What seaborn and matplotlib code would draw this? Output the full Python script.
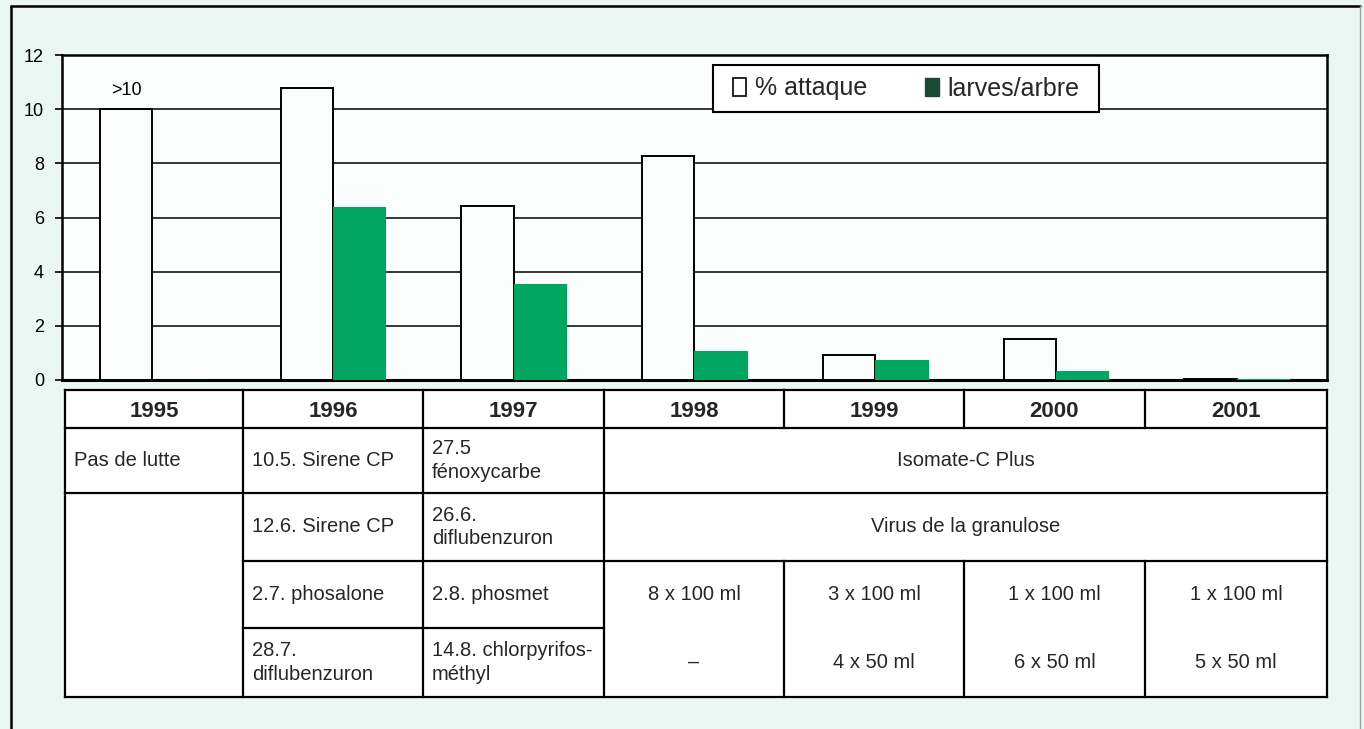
import numpy as np
import pandas as pd
import matplotlib
matplotlib.use('Agg')
import matplotlib.pyplot as plt
import seaborn as sns
from matplotlib.patches import Patch, Rectangle

# ---------------- data ----------------
years = ['1995', '1996', '1997', '1998', '1999', '2000', '2001']
series_names = ['% attaque', 'larves/arbre']
attaque = [10.0, 10.78, 6.44, 8.26, 0.93, 1.52, 0.05]
larves = [0.0, 6.37, 3.56, 1.07, 0.74, 0.33, 0.03]
y_ticks = [0, 2, 4, 6, 8, 10, 12]
over_label = '>10'

row1_left = ['Pas de lutte', '10.5. Sirene CP', '27.5\nfénoxycarbe']
row1_span = 'Isomate-C Plus'
row2_left = ['', '12.6. Sirene CP', '26.6.\ndiflubenzuron']
row2_span = 'Virus de la granulose'
row3_left = ['', '2.7. phosalone', '2.8. phosmet']
row3_doses = ['8 x 100 ml', '3 x 100 ml', '1 x 100 ml', '1 x 100 ml']
row4_left = ['', '28.7.\ndiflubenzuron', '14.8. chlorpyrifos-\nméthyl']
row4_doses = ['–', '4 x 50 ml', '6 x 50 ml', '5 x 50 ml']

# ---------------- style ----------------
W, H = 1364, 729
bg_mint = '#ebf7f2'
bar_white = '#fafdfc'
bar_green = '#00a660'
legend_green = '#1c4834'

sns.set_style('ticks')
plt.rcParams['font.family'] = ['Liberation Sans', 'DejaVu Sans']
plt.rcParams['axes.edgecolor'] = 'black'

fig = plt.figure(figsize=(W / 100, H / 100), dpi=100, facecolor=bg_mint)

# ---------------- bar chart ----------------
ax = fig.add_axes([62 / W, 1 - 380 / H, 1265 / W, 325 / H])
ax.set_facecolor('#fcfefd')

df = pd.DataFrame({
    'year': years * 2,
    'series': [series_names[0]] * len(years) + [series_names[1]] * len(years),
    'value': attaque + larves,
})
sns.barplot(data=df, x='year', y='value', hue='series',
            palette=[bar_white, bar_green], width=0.58, gap=0,
            saturation=1, legend=False, ax=ax, zorder=3)

for bar in ax.containers[0]:
    bar.set_edgecolor('black')
    bar.set_linewidth(1.4)
for bar in ax.containers[1]:
    bar.set_edgecolor(bar_green)
    bar.set_linewidth(0.8)

ax.set_ylim(0, 12)
ax.set_yticks(y_ticks)
ax.yaxis.grid(True, color='black', linewidth=1.1)
ax.set_axisbelow(True)
ax.set_xlabel('')
ax.set_ylabel('')
ax.tick_params(axis='x', bottom=False, labelbottom=False)
ax.tick_params(axis='y', length=5, width=1.2, pad=8, labelsize=13, colors='black')
for sp in ax.spines.values():
    sp.set_visible(True)
    sp.set_color('black')
    sp.set_linewidth(1.8)
ax.spines['bottom'].set_linewidth(2.2)

first = ax.containers[0][0]
ax.annotate(over_label, (first.get_x() + first.get_width() / 2, first.get_height()),
            xytext=(0, 7), textcoords='offset points', ha='center', va='bottom',
            fontsize=13, color='black')

# ---------------- overlay: frame, legend, table ----------------
tax = fig.add_axes([0, 0, 1, 1])
tax.set_xlim(0, W)
tax.set_ylim(H, 0)
tax.axis('off')
tax.patch.set_alpha(0)

# legend box + legend
tax.add_patch(Rectangle((713, 65), 386, 47, facecolor='white', edgecolor='black',
                        linewidth=1.5, zorder=2))
handles = [Patch(facecolor='white', edgecolor='black', linewidth=1.2, label=series_names[0]),
           Patch(facecolor=legend_green, edgecolor=legend_green, label=series_names[1])]
leg = tax.legend(handles=handles, ncol=2, loc='center',
                 bbox_to_anchor=(906 / W, 1 - 88.5 / H), bbox_transform=fig.transFigure,
                 fontsize=18, frameon=False, handlelength=0.55,
                 handleheight=0.7, handletextpad=0.35, columnspacing=2.3,
                 borderpad=0.3)
leg.set_zorder(5)

# outer frame
tax.plot([11, 11], [6, H + 5], color='black', lw=1.8)
tax.plot([11, 1360], [6, 6], color='black', lw=1.8)
tax.plot([1360, 1360], [6, H + 5], color='#9aa5a0', lw=1.0)

col_x = [65, 243, 423, 604, 784, 964, 1145, 1327]
row_y = [390, 428, 493, 561, 628, 697]
lw_t = 1.6
tax.add_patch(Rectangle((col_x[0], row_y[0]), col_x[-1] - col_x[0], row_y[-1] - row_y[0],
                        facecolor='white', edgecolor='none', zorder=0))

def hline(y, x0, x1):
    tax.plot([x0, x1], [y, y], color='black', lw=lw_t, solid_capstyle='projecting')

def vline(x, y0, y1):
    tax.plot([x, x], [y0, y1], color='black', lw=lw_t, solid_capstyle='projecting')

hline(row_y[0], col_x[0], col_x[-1])
hline(row_y[1], col_x[0], col_x[-1])
hline(row_y[2], col_x[0], col_x[-1])
hline(row_y[3], col_x[1], col_x[-1])
hline(row_y[4], col_x[1], col_x[3])
hline(row_y[5], col_x[0], col_x[-1])
for x in [col_x[0], col_x[1], col_x[2], col_x[3], col_x[-1]]:
    vline(x, row_y[0], row_y[-1])
for x in col_x[4:7]:
    vline(x, row_y[0], row_y[1])
    vline(x, row_y[3], row_y[-1])

def mid(a, b):
    return (a + b) / 2

body_fs = 14.5
# header
for i, yr in enumerate(years):
    tax.text(mid(col_x[i], col_x[i + 1]), mid(row_y[0], row_y[1]) + 2, yr,
             ha='center', va='center', fontsize=16, fontweight='bold')

rows_left = [row1_left, row2_left, row3_left, row4_left]
for r, cells in enumerate(rows_left):
    yc = mid(row_y[r + 1], row_y[r + 2])
    for c, s in enumerate(cells):
        if s:
            tax.text(col_x[c] + 9, yc, s, ha='left', va='center',
                     fontsize=body_fs, linespacing=1.3)

tax.text(mid(col_x[3], col_x[-1]), mid(row_y[1], row_y[2]), row1_span,
         ha='center', va='center', fontsize=body_fs)
tax.text(mid(col_x[3], col_x[-1]), mid(row_y[2], row_y[3]), row2_span,
         ha='center', va='center', fontsize=body_fs)
for k in range(4):
    xc = mid(col_x[3 + k], col_x[4 + k])
    tax.text(xc, mid(row_y[3], row_y[4]), row3_doses[k],
             ha='center', va='center', fontsize=body_fs)
    tax.text(xc, mid(row_y[4], row_y[5]), row4_doses[k],
             ha='center', va='center', fontsize=body_fs)

fig.savefig('out.png', dpi=100, facecolor=bg_mint)
